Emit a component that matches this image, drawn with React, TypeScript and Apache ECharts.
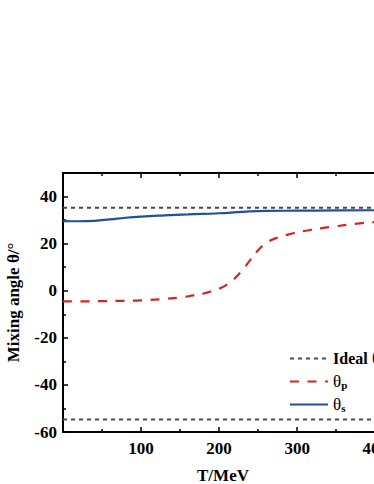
import React, { useEffect, useRef } from "react";
import * as echarts from "echarts";

const idealUpper: [number, number][] = [[0, 35.26], [410, 35.26]];
const idealLower: [number, number][] = [[0, -54.74], [410, -54.74]];
const thetaP: [number, number][] = [
  [0, -4.5], [25, -4.5], [50, -4.4], [75, -4.3], [100, -4.1], [133, -3.4], [150, -2.9],
  [167, -2.0], [180, -1.2], [190, -0.2], [201, 1.0], [210, 2.6], [218, 4.6], [230, 8.8],
  [240, 13.1], [250, 17.2], [261, 20.4], [275, 22.6], [295, 24.4], [315, 25.7], [330, 26.5],
  [350, 27.4], [364, 28.0], [380, 28.6], [394, 29.0], [410, 29.3],
];
const thetaS: [number, number][] = [
  [0, 29.6], [20, 29.5], [40, 29.7], [60, 30.3], [80, 31.0], [100, 31.5], [130, 32.0],
  [160, 32.4], [200, 32.9], [230, 33.5], [260, 33.9], [300, 34.0], [350, 34.1], [410, 34.2],
];

const FONT = "Liberation Serif";

export default function App() {
  const ref = useRef<HTMLDivElement>(null);
  useEffect(() => {
    if (!ref.current) return;
    const chart = echarts.init(ref.current, undefined, { renderer: "svg" });
    const axisLine = { show: true, onZero: false, lineStyle: { color: "#000", width: 2 } };
    const xTick = { show: true, inside: true, length: 5, lineStyle: { color: "#000", width: 1.5 } };
    const minor = { show: true, splitNumber: 2, length: 3, lineStyle: { color: "#000", width: 1.5 } };
    chart.setOption({
      animation: false,
      grid: { left: 63, top: 173, right: 47, bottom: 52, containLabel: false, outerBoundsMode: "none" },
      legend: {
        orient: "vertical",
        left: 284,
        top: 345,
        itemWidth: 38,
        itemHeight: 14,
        itemGap: 6,
        itemStyle: { opacity: 0 },
        data: ["Ideal θ", "θp", "θs"],
        formatter: (name: string) => {
          if (name === "θp") return "θ{sub|p}";
          if (name === "θs") return "θ{sub|s}";
          return "{b|Ideal} θ";
        },
        textStyle: {
          fontFamily: FONT,
          fontSize: 17,
          color: "#000",
          rich: {
            b: { fontFamily: FONT, fontSize: 16, fontWeight: "bold", color: "#000" },
            sub: { fontFamily: FONT, fontSize: 11, fontWeight: "bold", color: "#000", verticalAlign: "bottom", padding: [6, 0, 0, 0] },
          },
        },
      },
      xAxis: [
        {
          type: "value",
          position: "bottom",
          min: 0,
          max: 410,
          interval: 100,
          name: "T/MeV",
          nameLocation: "middle",
          nameGap: 35,
          nameTextStyle: { fontFamily: FONT, fontSize: 17, fontWeight: "bold", color: "#000" },
          axisLine,
          axisTick: xTick,
          minorTick: minor,
          splitLine: { show: false },
          axisLabel: {
            margin: 8,
            fontFamily: FONT,
            fontSize: 17,
            fontWeight: "bold",
            color: "#000",
            formatter: (v: number) => (v > 0 && v % 100 === 0 ? String(v) : ""),
          },
        },
        {
          type: "value",
          position: "top",
          min: 0,
          max: 410,
          interval: 100,
          axisLine,
          axisTick: xTick,
          minorTick: minor,
          splitLine: { show: false },
          axisLabel: { show: false },
        },
      ],
      yAxis: [
        {
          type: "value",
          position: "left",
          min: -60,
          max: 50,
          interval: 20,
          name: "Mixing angle θ/°",
          nameLocation: "middle",
          nameGap: 41,
          nameTextStyle: { fontFamily: FONT, fontSize: 17, fontWeight: "bold", color: "#000" },
          axisLine,
          axisTick: xTick,
          minorTick: minor,
          splitLine: { show: false },
          axisLabel: {
            margin: 6,
            fontFamily: FONT,
            fontSize: 17,
            fontWeight: "bold",
            color: "#000",
            formatter: (v: number) => (v % 20 === 0 ? String(v) : ""),
          },
        },
        {
          type: "value",
          position: "right",
          min: -60,
          max: 50,
          interval: 20,
          axisLine,
          axisTick: xTick,
          minorTick: minor,
          splitLine: { show: false },
          axisLabel: { show: false },
        },
      ],
      series: [
        {
          name: "Ideal θ",
          type: "line",
          data: idealUpper,
          symbol: "none",
          lineStyle: { color: "#4a4a4a", width: 2, type: [4, 4] },
          itemStyle: { color: "#4a4a4a" },
        },
        {
          name: "Ideal θ",
          type: "line",
          data: idealLower,
          symbol: "none",
          lineStyle: { color: "#4a4a4a", width: 2, type: [4, 4] },
          itemStyle: { color: "#4a4a4a" },
        },
        {
          name: "θp",
          type: "line",
          data: thetaP,
          symbol: "none",
          smooth: true,
          lineStyle: { color: "#d42525", width: 2.2, type: [9, 8.5] },
          itemStyle: { color: "#d42525" },
        },
        {
          name: "θs",
          type: "line",
          data: thetaS,
          symbol: "none",
          smooth: true,
          lineStyle: { color: "#1f4f9e", width: 2.2 },
          itemStyle: { color: "#1f4f9e" },
        },
      ],
    });
    return () => chart.dispose();
  }, []);
  return (
    <div style={{ position: "absolute", left: 0, top: 0, width: 374, height: 484, overflow: "hidden" }}>
      <div ref={ref} style={{ width: 430, height: 484 }} />
    </div>
  );
}
